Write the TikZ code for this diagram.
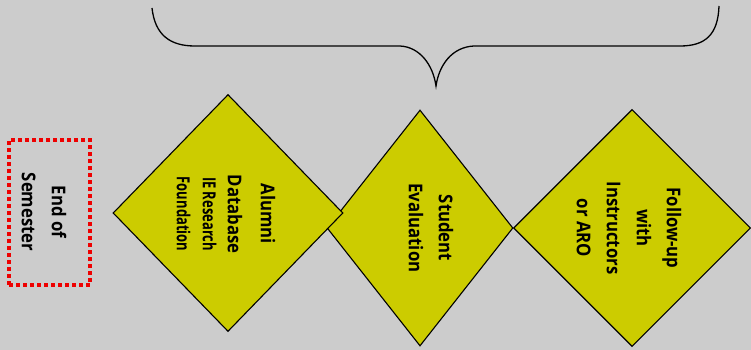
\documentclass[tikz,border=0pt]{standalone}
\usepackage{fontspec}
\setmainfont{Open Sans}
\newfontfamily\diafont{Open Sans}[FakeStretch=0.88]
\newfontfamily\slimfont{Open Sans}[FakeStretch=0.72]
\usetikzlibrary{shapes.geometric,positioning}

\definecolor{bggray}{HTML}{CCCCCC}
\definecolor{stepyellow}{HTML}{CCCC00}
\definecolor{boxred}{HTML}{EE0000}

\tikzset{
  stage/.style={draw=black, line width=1.1pt, fill=stepyellow, shape=diamond, inner sep=0pt},
  stagetext/.style={rotate=-90, align=center, font=\diafont\bfseries\fontsize{19}{30}\selectfont},
  semesterbox/.style={draw=boxred, line width=4pt, dash pattern=on 4pt off 3pt, inner sep=0pt,
    minimum width=81pt, minimum height=145pt}
}

\begin{document}
\begin{tikzpicture}[x=1pt,y=-1pt]
  \fill[bggray] (0,0) rectangle (751,350);
  \useasboundingbox (0,0) rectangle (751,350);

  % semester box
  \node[semesterbox] (sem) at (49.5,212.5) {};
  \node[stagetext] (semtxt) at (44,212) {End of\\Semester};

  % the three steps
  \node[stage, minimum width=186pt, minimum height=236pt] (eval) at (420,228) {};
  \node[stage, minimum width=230pt, minimum height=237pt] (alumni) at (228,213) {};
  \node[stage, minimum width=237pt, minimum height=237pt] (follow) at (632,228) {};

  \node[stagetext] (alumnitxt) at (226,214) {Alumni\\[3pt]Database\\[-5pt]{\slimfont\fontsize{18}{26}\selectfont IE Research}\\[-4pt]{\slimfont\fontsize{18}{26}\selectfont Foundation}};
  \node[stagetext] (evaltxt) at (431,228) {Student\\Evaluation};
  \node[stagetext] (followtxt) at (629,228) {Follow-up\\with\\Instructors\\or ARO};

  % brace over the steps
  \draw[line width=1.3pt] (152,8) .. controls (155,35) and (170,46) .. (195,46) -- (400,46)
    .. controls (420,47) and (433,65) .. (436,86)
    .. controls (439,65) and (452,47) .. (474,46) -- (680,46)
    .. controls (705,46) and (718,35) .. (719,6);
\end{tikzpicture}
\end{document}
